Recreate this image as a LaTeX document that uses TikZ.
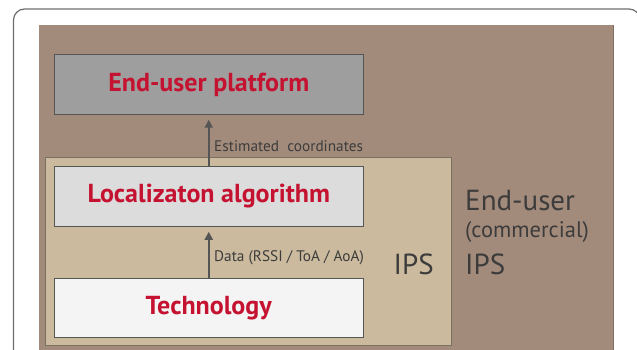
\documentclass[tikz,border=0pt]{standalone}
\usepackage{fontspec}
\setmainfont{PT Sans}
\usetikzlibrary{arrows.meta}
\definecolor{framegray}{HTML}{6E6E6E}
\definecolor{outerbrown}{HTML}{A38B7B}
\definecolor{ipsbeige}{HTML}{CBBA9E}
\definecolor{platgray}{HTML}{9E9E9E}
\definecolor{algogray}{HTML}{DCDCDC}
\definecolor{techwhite}{HTML}{F4F4F4}
\definecolor{titlered}{HTML}{C41230}
\definecolor{textgray}{HTML}{3C3C3C}
\definecolor{edgegray}{HTML}{555555}
\tikzset{
  layerbox/.style={draw=edgegray, line width=1pt, minimum width=308.5pt, minimum height=59.5pt,
    inner sep=0pt, font=\fontsize{26}{30}\selectfont\bfseries, text=titlered},
  flowarrow/.style={draw=edgegray, line width=2pt, -{Triangle[length=8pt,width=8pt]}, shorten >=5pt},
  flowlabel/.style={font=\fontsize{15.3}{18}\selectfont, text=textgray, inner sep=0pt, anchor=west},
  biglabel/.style={font=\fontsize{29}{31}\selectfont, text=textgray, inner sep=0pt, anchor=base west},
}
\begin{document}
\begin{tikzpicture}[x=1pt, y=-1pt]
  \useasboundingbox (0,0) rectangle (637,350);
  \begin{scope}
    \clip (0,0) rectangle (637,350);
    % outer frame
    \draw[framegray, line width=1.2pt, fill=white, rounded corners=11pt] (13.5,9) rectangle (640,380);
    % end-user (commercial) IPS area
    \fill[outerbrown] (38.5,25) rectangle (613.5,360);
    \draw[outerbrown!80!black, line width=0.8pt] (613.5,25) -- (613.5,360);
    % IPS area
    \draw[fill=ipsbeige, draw=ipsbeige!60!black, line width=1pt] (45.5,157.5) rectangle (451.5,345);
  \end{scope}
  % layers
  \node[layerbox, fill=platgray]  (plat) at (208.75,84.5)  {End-user platform};
  \node[layerbox, fill=algogray]  (algo) at (208.75,196.5) {Localizaton algorithm};
  \node[layerbox, fill=techwhite] (tech) at (208.75,308)   {Technology};
  % data flow
  \draw[flowarrow] (algo.north) -- (plat.south);
  \draw[flowarrow] (tech.north) -- (algo.south);
  \node[flowlabel] (estlbl)  at (214,146.5) {Estimated\ \ coordinates};
  \node[flowlabel] (datalbl) at (214,258) {Data (RSSI / ToA / AoA)};
  % area labels
  \node[biglabel] (ipsin) at (393.5,274) {IPS};
  \node[biglabel] (eu) at (465,210) {End-user};
  \node[font=\fontsize{22.5}{25}\selectfont, text=textgray, inner sep=0pt, anchor=base west] (comm) at (465,237) {(commercial)};
  \node[biglabel] (ipsout) at (465,274) {IPS};
\end{tikzpicture}
\end{document}
